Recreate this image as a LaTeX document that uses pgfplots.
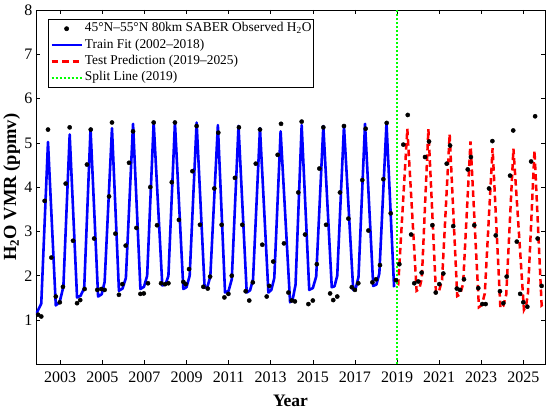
\documentclass[border=0pt]{standalone}
\usepackage{fontspec}
\setmainfont{Liberation Serif}
\usepackage{pgfplots}
\pgfplotsset{compat=1.18}
\pgfplotsset{linelegend/.style={legend image code/.code={\draw[##1] (0pt,0pt) -- (30pt,0pt);}},
  dotlegend/.style={legend image code/.code={\draw[mark repeat=2,mark phase=2,##1] plot coordinates {(0pt,0pt) (15pt,0pt) (30pt,0pt)};}}}
\begin{document}
\begin{tikzpicture}
\begin{axis}[
  scale only axis,
  width=509pt, height=354.3pt,
  xmin=2001.85, xmax=2026.03,
  ymin=0, ymax=8,
  xtick={2003,2005,...,2025},
  ytick={1,2,...,8},
  tick align=inside,
  major tick length=4.5pt,
  tick style={black, line width=0.6pt},
  axis line style={black, line width=0.6pt},
  /pgf/number format/assume math mode=true,
  /pgf/number format/1000 sep={},
  ticklabel style={font=\fontsize{16}{16}\selectfont},
  xticklabel style={yshift=-4pt},
  xlabel={Year},
  ylabel={H\textsubscript{2}O VMR (ppmv)},
  xlabel style={font=\fontsize{17.5}{18}\selectfont\bfseries, at={(axis description cs:0.5,-0.1205)}, anchor=base},
  ylabel style={font=\fontsize{18.5}{19}\selectfont\bfseries, at={(axis description cs:-0.0477,0.5)}, anchor=center},
  legend style={at={(axis description cs:0.0242,0.9746)}, anchor=north west,
    font=\fontsize{13.4}{15}\selectfont, draw=black, line width=0.6pt,
    inner xsep=1.7pt, inner ysep=3pt,
    nodes={inner sep=0pt, text height=9.5pt, text depth=3.3pt},
    row sep=3.5pt,
    /tikz/every odd column/.append style={column sep=2pt}},
  legend cell align=left,
]
\addplot[only marks, mark=*, mark size=2.1pt, black, dotlegend]
table {
x y
2001.95 1.12
2002.10 1.08
2002.26 3.69
2002.42 5.30
2002.58 2.41
2002.79 1.53
2002.98 1.40
2003.13 1.75
2003.26 4.08
2003.45 5.35
2003.61 2.79
2003.80 1.38
2003.95 1.45
2004.16 1.70
2004.27 4.51
2004.45 5.30
2004.61 2.84
2004.76 1.68
2004.95 1.70
2005.11 1.68
2005.32 3.79
2005.46 5.46
2005.62 2.95
2005.79 1.57
2005.95 1.81
2006.11 2.68
2006.27 4.55
2006.46 5.26
2006.62 3.08
2006.81 1.59
2006.97 1.60
2007.17 1.83
2007.28 4.00
2007.44 5.46
2007.60 3.14
2007.79 1.83
2007.98 1.81
2008.14 1.83
2008.30 4.11
2008.45 5.46
2008.64 3.26
2008.85 1.86
2008.96 1.81
2009.12 2.15
2009.28 4.36
2009.48 5.38
2009.64 3.15
2009.80 1.75
2010.01 1.71
2010.12 1.98
2010.32 3.97
2010.51 5.23
2010.67 3.15
2010.80 1.51
2010.99 1.59
2011.15 2.00
2011.30 4.21
2011.49 5.35
2011.65 3.15
2011.81 1.65
2011.98 1.44
2012.15 1.85
2012.29 4.53
2012.49 5.30
2012.60 2.70
2012.81 1.53
2012.93 1.77
2013.12 2.32
2013.33 4.73
2013.49 5.43
2013.63 2.73
2013.84 1.62
2014.00 1.44
2014.15 1.42
2014.31 3.88
2014.47 5.48
2014.63 2.93
2014.79 1.36
2015.00 1.44
2015.19 2.26
2015.31 4.42
2015.50 5.35
2015.63 3.15
2015.82 1.60
2015.97 1.45
2016.16 1.53
2016.29 3.88
2016.48 5.38
2016.69 3.29
2016.85 1.74
2017.00 1.68
2017.16 1.83
2017.35 4.16
2017.51 5.32
2017.64 3.02
2017.83 1.85
2018.00 1.92
2018.19 2.24
2018.35 4.18
2018.51 5.45
2018.70 3.41
2018.95 1.90
2019.11 2.26
2019.30 4.96
2019.51 5.63
2019.67 2.93
2019.82 1.83
2020.01 1.87
2020.17 2.07
2020.33 4.68
2020.52 5.03
2020.68 3.14
2020.84 1.62
2021.01 1.81
2021.20 2.05
2021.36 4.53
2021.52 4.94
2021.67 3.12
2021.84 1.71
2021.99 1.68
2022.18 1.92
2022.36 4.40
2022.51 4.68
2022.67 3.14
2022.86 1.72
2023.05 1.36
2023.21 1.36
2023.37 3.97
2023.53 5.04
2023.69 2.91
2023.89 1.65
2024.05 1.38
2024.21 1.98
2024.37 4.26
2024.52 5.28
2024.69 2.77
2024.85 1.59
2025.00 1.40
2025.19 1.30
2025.37 4.58
2025.56 5.60
2025.68 2.84
2025.87 1.77
};
\addlegendentry{45°N–55°N 80km SABER Observed H\textsubscript{2}O}
\addplot[color={rgb,1:red,0;green,0;blue,1}, line width=2.6pt, line join=round, linelegend]
table {
x y
2001.86 1.14
2002.10 1.37
2002.42 5.02
2002.79 1.33
2002.97 1.40
2003.15 1.75
2003.45 5.19
2003.80 1.51
2003.97 1.55
2004.14 1.72
2004.44 5.32
2004.80 1.53
2004.97 1.58
2005.11 1.86
2005.46 5.33
2005.79 1.66
2005.96 1.71
2006.12 1.95
2006.46 5.43
2006.81 1.70
2006.98 1.75
2007.13 2.00
2007.44 5.46
2007.85 1.78
2008.00 1.80
2008.14 2.00
2008.45 5.46
2008.85 1.70
2009.00 1.74
2009.15 2.00
2009.48 5.46
2009.86 1.73
2010.00 1.76
2010.13 1.98
2010.49 5.40
2010.83 1.62
2011.00 1.66
2011.15 1.92
2011.47 5.38
2011.86 1.62
2012.02 1.67
2012.16 1.92
2012.49 5.33
2012.89 1.62
2013.03 1.68
2013.17 1.95
2013.47 5.26
2013.92 1.40
2014.05 1.48
2014.18 1.80
2014.47 5.40
2014.83 1.68
2015.00 1.72
2015.16 1.98
2015.50 5.38
2015.90 1.74
2016.03 1.76
2016.16 2.00
2016.48 5.38
2016.92 1.68
2017.04 1.72
2017.17 1.97
2017.48 5.43
2017.87 1.77
2018.02 1.80
2018.16 2.05
2018.50 5.45
2018.86 1.74
};
\addlegendentry{Train Fit (2002–2018)}
\addplot[color={rgb,1:red,1;green,0;blue,0}, line width=2.5pt, dash pattern=on 6.5pt off 4pt, linelegend]
table {
x y
2018.98 1.85
2019.06 1.82
2019.49 5.32
2019.93 1.66
2020.06 1.70
2020.18 1.95
2020.49 5.31
2020.85 1.62
2021.00 1.66
2021.14 1.90
2021.50 5.20
2021.86 1.54
2022.00 1.58
2022.14 1.82
2022.49 5.03
2022.89 1.29
2023.03 1.34
2023.17 1.60
2023.54 4.88
2023.91 1.27
2024.05 1.32
2024.19 1.58
2024.53 4.87
2025.03 1.23
2025.13 1.32
2025.22 1.60
2025.53 4.83
2025.87 1.33
2025.95 1.36
};
\addlegendentry{Test Prediction (2019–2025)}
\addplot[color={rgb,1:red,0;green,1;blue,0}, line width=2pt, dash pattern=on 2pt off 2pt, linelegend]
coordinates {(2019,0) (2019,8)};
\addlegendentry{Split Line (2019)}
\end{axis}
\pgfresetboundingbox
\path ([xshift=-36pt,yshift=-46.7pt]current axis.south west) rectangle ([xshift=5pt,yshift=10pt]current axis.north east);
\end{tikzpicture}
\end{document}
